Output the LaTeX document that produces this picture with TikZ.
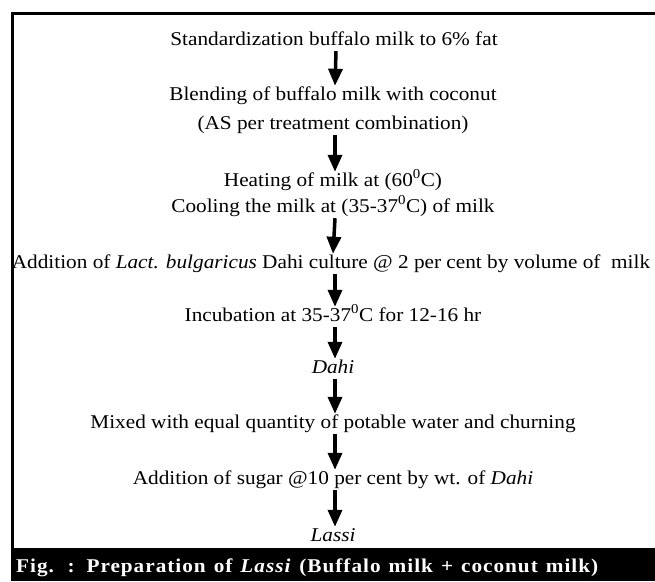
\documentclass[tikz,border=0pt]{standalone}
\usepackage{fontspec}
\setmainfont{Liberation Serif}[FakeStretch=1.09]
\newfontfamily\capfont{Liberation Serif}[FakeStretch=1.09, LetterSpace=5]
\usetikzlibrary{arrows.meta}
\begin{document}
\begin{tikzpicture}[x=1pt,y=-1pt,
  stepnode/.style={anchor=base, inner sep=0pt, text height=14pt, text depth=6pt,
    font=\fontsize{19.5}{22}\selectfont},
  flow/.style={-{Triangle[width=14pt,length=17pt]}, line width=3.5pt},
  frame/.style={line width=3pt},
  captionbar/.style={fill=black},
  captiontext/.style={anchor=base west, inner sep=0pt, text=white,
    font=\capfont\fontsize{19.5}{22}\selectfont\bfseries}]
\useasboundingbox (0,0) rectangle (655,581);
\fill[white] (0,0) rectangle (655,581);
\draw[frame] (12.5,549) -- (12.5,13.5) -- (655,13.5);
\fill[captionbar] (11,548) rectangle (655,581);
\node[captiontext] (cap) at (16,572) {\makebox[582pt][s]{Fig. : Preparation of \textit{Lassi} (Buffalo milk + coconut milk)}};

\node[stepnode] (n1) at (334,45) {Standardization buffalo milk to 6\% fat};
\node[stepnode] (n2) at (333,100) {Blending of buffalo milk with coconut};
\node[stepnode] (n3) at (333,129) {(AS per treatment combination)};
\node[stepnode] (n4) at (333,186) {Heating of milk at (60\textsuperscript{0}C)};
\node[stepnode] (n5) at (333,212) {Cooling the milk at (35-37\textsuperscript{0}C) of milk};
\node[stepnode] (n6) at (331,268) {Addition of \textit{Lact. bulgaricus} Dahi culture @ 2 per cent by volume of\ \ milk};
\node[stepnode] (n7) at (333,321) {Incubation at 35-37\textsuperscript{0}C for 12-16 hr};
\node[stepnode] (n8) at (333,373) {\textit{Dahi}};
\node[stepnode] (n9) at (333,428) {Mixed with equal quantity of potable water and churning};
\node[stepnode] (n10) at (333,484) {Addition of sugar @10 per cent by wt. of \textit{Dahi}};
\node[stepnode] (n11) at (333,541) {\textit{Lassi}};

\draw[flow] ([xshift=2pt]n1.south) -- ([xshift=2pt]n2.north);
\draw[flow] ([xshift=2pt]n3.south) -- ([xshift=2pt]n4.north);
\draw[flow] ([xshift=2pt]n5.south) -- ([xshift=2pt]n6.north);
\draw[flow] ([xshift=4pt]n6.south) -- ([xshift=2pt]n7.north);
\draw[flow] ([xshift=2pt]n7.south) -- ([xshift=2pt]n8.north);
\draw[flow] ([xshift=2pt]n8.south) -- ([xshift=2pt]n9.north);
\draw[flow] ([xshift=2pt]n9.south) -- ([xshift=2pt]n10.north);
\draw[flow] ([xshift=2pt]n10.south) -- ([xshift=2pt]n11.north);
\end{tikzpicture}
\end{document}
